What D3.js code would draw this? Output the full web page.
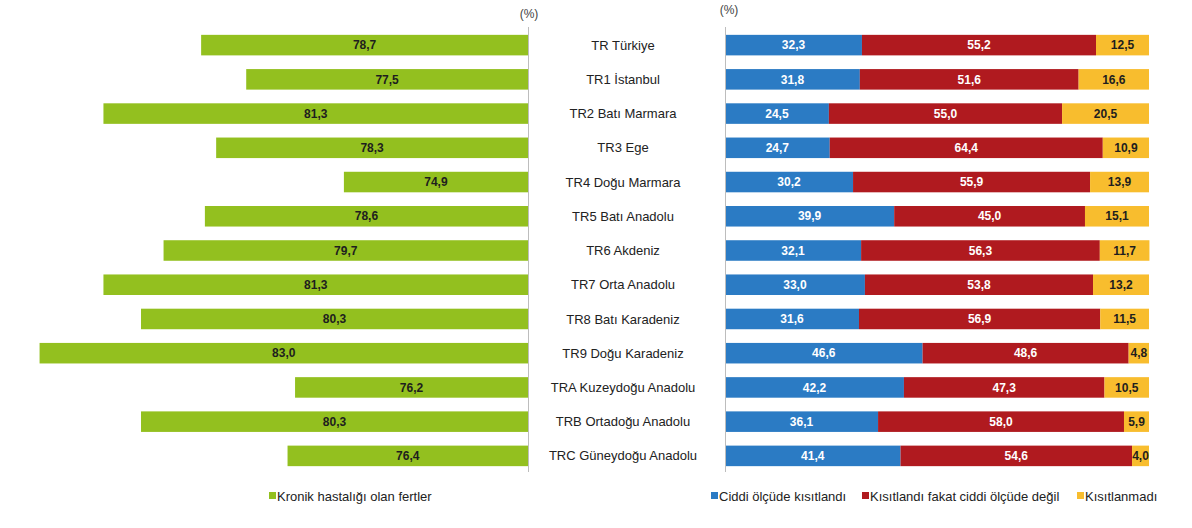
<!DOCTYPE html>
<html><head><meta charset="utf-8">
<script src="https://cdn.jsdelivr.net/npm/d3@7"></script>
<style>body{margin:0;background:#fff}svg{display:block;font-family:"Liberation Sans",Arial,sans-serif}</style>
</head><body><svg id="c" width="1192" height="528"></svg>
<script>
const categories = ["TR Türkiye","TR1 İstanbul","TR2 Batı Marmara","TR3 Ege","TR4 Doğu Marmara","TR5 Batı Anadolu","TR6 Akdeniz","TR7 Orta Anadolu","TR8 Batı Karadeniz","TR9 Doğu Karadeniz","TRA Kuzeydoğu Anadolu","TRB Ortadoğu Anadolu","TRC Güneydoğu Anadolu"];
const chronic = [78.7,77.5,81.3,78.3,74.9,78.6,79.7,81.3,80.3,83.0,76.2,80.3,76.4];
const severe = [32.3,31.8,24.5,24.7,30.2,39.9,32.1,33.0,31.6,46.6,42.2,36.1,41.4];
const limitedNotSevere = [55.2,51.6,55.0,64.4,55.9,45.0,56.3,53.8,56.9,48.6,47.3,58.0,54.6];
const notLimited = [12.5,16.6,20.5,10.9,13.9,15.1,11.7,13.2,11.5,4.8,10.5,5.9,4.0];
const seriesNames = ["Ciddi ölçüde kısıtlandı","Kısıtlandı fakat ciddi ölçüde değil","Kısıtlanmadı"];
const leftSeriesName = "Kronik hastalığı olan fertler";
const unitLabel = "(%)";

const colors = ["#2b7bc4","#b01a1f","#f8bd2e"];
const green = "#93c01f";
const svg = d3.select("#c");
const fmt = v => v.toFixed(1).replace(".", ",");

const y = d3.scaleBand().domain(categories).range([28,473]).paddingInner(0.4).paddingOuter(0.2);

// Left chart
const xl = d3.scaleLinear().domain([70,84]).range([528,2]);
const gl = svg.append("g");
gl.selectAll("rect").data(categories).join("rect")
  .attr("x", (d,i)=>xl(chronic[i])).attr("y", d=>y(d))
  .attr("width", (d,i)=>xl(70)-xl(chronic[i])).attr("height", y.bandwidth())
  .attr("fill", green);
gl.selectAll("text").data(categories).join("text")
  .attr("x", (d,i)=>(xl(chronic[i])+xl(70))/2).attr("y", d=>y(d)+y.bandwidth()/2)
  .attr("dy","0.35em").attr("text-anchor","middle")
  .attr("font-size",12).attr("font-weight","bold").attr("fill","#1e1e1e")
  .text((d,i)=>fmt(chronic[i]));
svg.append("line").attr("x1",xl(70)+0.5).attr("x2",xl(70)+0.5).attr("y1",27).attr("y2",472)
  .attr("stroke","#bdbdbd").attr("stroke-width",1);
svg.append("text").attr("x",529).attr("y",18).attr("text-anchor","middle")
  .attr("font-size",12).attr("fill","#444").text(unitLabel);

// Category labels
svg.append("g").selectAll("text").data(categories).join("text")
  .attr("x",623).attr("y",d=>y(d)+y.bandwidth()/2).attr("dy","0.35em")
  .attr("text-anchor","middle").attr("font-size",13).attr("fill","#222").text(d=>d);

// Right chart
const xr = d3.scaleLinear().domain([0,100]).range([725,1149]);
const stackData = categories.map((c,i)=>({cat:c, s0:severe[i], s1:limitedNotSevere[i], s2:notLimited[i]}));
const stack = d3.stack().keys(["s0","s1","s2"])(stackData);
const gr = svg.append("g");
stack.forEach((layer,k)=>{
  const g = gr.append("g");
  g.selectAll("rect").data(layer).join("rect")
    .attr("x", d=>xr(d[0])).attr("y", d=>y(d.data.cat))
    .attr("width", d=>xr(d[1])-xr(d[0])).attr("height", y.bandwidth())
    .attr("fill", colors[k]);
  g.selectAll("text").data(layer).join("text")
    .attr("x", d=>(xr(d[0])+xr(d[1]))/2).attr("y", d=>y(d.data.cat)+y.bandwidth()/2)
    .attr("dy","0.35em").attr("text-anchor","middle")
    .attr("font-size",12).attr("font-weight","bold")
    .attr("fill", k===2 ? "#1e1e1e" : "#ffffff")
    .text(d=>fmt(d[1]-d[0]));
});
svg.append("line").attr("x1",xr(0)+0.5).attr("x2",xr(0)+0.5).attr("y1",27).attr("y2",472)
  .attr("stroke","#bdbdbd").attr("stroke-width",1);
svg.append("text").attr("x",729).attr("y",14).attr("text-anchor","middle")
  .attr("font-size",12).attr("fill","#444").text(unitLabel);

// Legends
const ly = 496;
svg.append("rect").attr("x",269).attr("y",ly-4).attr("width",7).attr("height",7).attr("fill",green);
svg.append("text").attr("x",277).attr("y",ly).attr("dy","0.35em").attr("font-size",13).attr("fill","#222").text(leftSeriesName);
const legX = [711, 862, 1077];
seriesNames.forEach((n,k)=>{
  svg.append("rect").attr("x",legX[k]).attr("y",ly-4).attr("width",7).attr("height",7).attr("fill",colors[k]);
  svg.append("text").attr("x",legX[k]+8).attr("y",ly).attr("dy","0.35em").attr("font-size",13).attr("fill","#222").text(n);
});
</script></body></html>
